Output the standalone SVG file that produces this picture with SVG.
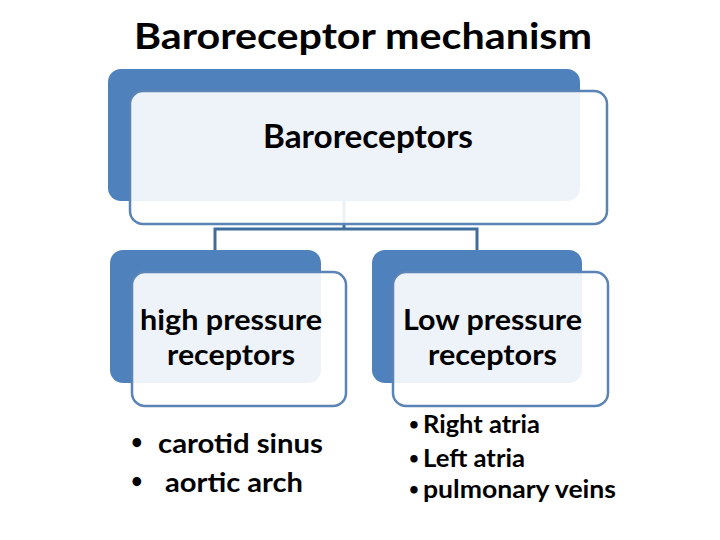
<svg xmlns="http://www.w3.org/2000/svg" width="720" height="540" viewBox="0 0 720 540">
<style>
.back{fill:#4F81BD;}
.front{fill:#FFFFFF;fill-opacity:0.9;stroke:#5A83B6;stroke-width:2.5;}
.conn{fill:none;stroke:#3F6E9E;stroke-width:3;}
.t{font-family:Lato,"Open Sans","Liberation Sans",sans-serif;font-weight:bold;fill:#000;}
</style>
<rect width="720" height="540" fill="#FFFFFF"/>
<text class="t" x="363" y="49" font-size="36" text-anchor="middle" textLength="458" lengthAdjust="spacingAndGlyphs">Baroreceptor mechanism</text>
<g id="connectors">
<path class="conn" d="M344,201 V229"/>
<path class="conn" d="M215,251 V229 H477 V251"/>
</g>
<g id="node-baroreceptors">
<rect class="back" x="108" y="69" width="472" height="132" rx="13"/>
<rect class="front" x="130" y="91" width="477" height="133" rx="13"/>
<text class="t" x="368" y="148" font-size="32" text-anchor="middle" textLength="210" lengthAdjust="spacingAndGlyphs">Baroreceptors</text>
</g>
<g id="node-high">
<rect class="back" x="110" y="250" width="211" height="133" rx="13"/>
<rect class="front" x="132" y="272" width="214" height="134" rx="13"/>
<text class="t" font-size="28" text-anchor="middle"><tspan x="231" y="330" textLength="182" lengthAdjust="spacingAndGlyphs">high pressure</tspan><tspan x="231" y="365" textLength="128" lengthAdjust="spacingAndGlyphs">receptors</tspan></text>
</g>
<g id="node-low">
<rect class="back" x="372" y="250" width="210" height="133" rx="13"/>
<rect class="front" x="393" y="272" width="215" height="134" rx="13"/>
<text class="t" font-size="28" text-anchor="middle"><tspan x="492.5" y="330" textLength="179" lengthAdjust="spacingAndGlyphs">Low pressure</tspan><tspan x="492.5" y="365" textLength="129" lengthAdjust="spacingAndGlyphs">receptors</tspan></text>
</g>
<g id="list-high">
<text class="t" font-size="20" x="131" y="449">•</text>
<text class="t" font-size="27" x="158" y="453" textLength="165" lengthAdjust="spacingAndGlyphs">carotid sinus</text>
<text class="t" font-size="20" x="131" y="488">•</text>
<text class="t" font-size="27" x="165" y="492" textLength="138" lengthAdjust="spacingAndGlyphs">aortic arch</text>
</g>
<g id="list-low">
<text class="t" font-size="17" x="409" y="430">•</text>
<text class="t" font-size="24" x="423" y="433" textLength="117" lengthAdjust="spacingAndGlyphs">Right atria</text>
<text class="t" font-size="17" x="409" y="464">•</text>
<text class="t" font-size="24" x="423" y="467" textLength="102" lengthAdjust="spacingAndGlyphs">Left atria</text>
<text class="t" font-size="17" x="409" y="495">•</text>
<text class="t" font-size="24" x="423" y="498" textLength="193" lengthAdjust="spacingAndGlyphs">pulmonary veins</text>
</g>
</svg>
